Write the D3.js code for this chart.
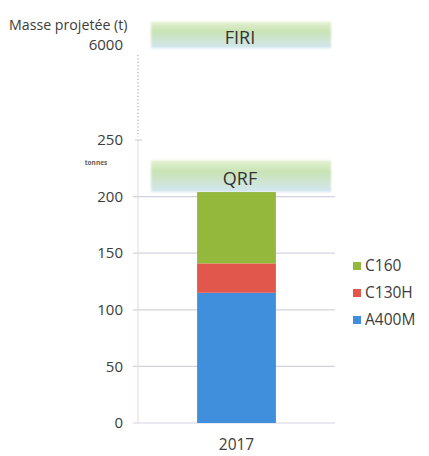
<!DOCTYPE html>
<html>
<head>
<meta charset="utf-8">
<script src="https://cdn.jsdelivr.net/npm/d3@7"></script>
<style>
    body { margin: 0; background: #fff; }
    svg text { font-family: "Open Sans", "Noto Sans", sans-serif; fill: #3c3c3c; }
</style>
</head>
<body>
<div id="chart"></div>
<script>
// Data
const years = ["2017"];
const series = ["A400M", "C130H", "C160"];
const values = { A400M: [115], C130H: [26], C160: [63] };
const colors = ["#3f8fdd", "#e2574c", "#93b83c"];
const legendOrder = ["C160", "C130H", "A400M"];
const yTicks = [0, 50, 100, 150, 200, 250, 6000];
const gridTicks = [0, 50, 100, 150, 200];
const bands = [
    { name: "FIRI", lo: 5800, hi: 7400 },
    { name: "QRF", lo: 204, hi: 232 },
];

const width = 429, height = 456;

const svg = d3.select("#chart").append("svg")
    .attr("width", width)
    .attr("height", height);

const defs = svg.append("defs");
const grad = defs.append("linearGradient")
    .attr("id", "bandGrad").attr("x1", 0).attr("y1", 0).attr("x2", 0).attr("y2", 1);
grad.append("stop").attr("offset", "0%").attr("stop-color", "#e3f0d2");
grad.append("stop").attr("offset", "35%").attr("stop-color", "#c9e3b4");
grad.append("stop").attr("offset", "100%").attr("stop-color", "#d3e6f0");
const blur = defs.append("filter").attr("id", "soft")
    .attr("x", "-5%").attr("y", "-20%").attr("width", "110%").attr("height", "140%");
blur.append("feGaussianBlur").attr("stdDeviation", 1.3);

// broken axis: linear below 250, compressed above
const y = d3.scaleLinear()
    .domain([0, 250, 6000])
    .range([423, 140, 45]);

const x = d3.scaleBand()
    .domain(years)
    .range([138, 335])
    .paddingInner(0)
    .paddingOuter(0.75);

// Gridlines
svg.append("g")
    .selectAll("line")
    .data(gridTicks)
    .join("line")
    .attr("x1", 133)
    .attr("x2", 335)
    .attr("y1", (d) => y(d))
    .attr("y2", (d) => y(d))
    .attr("stroke", "#d3d3df")
    .attr("stroke-width", 1.2);

// Axis line (solid part + dotted break)
svg.append("line")
    .attr("x1", 138).attr("x2", 138)
    .attr("y1", y(250)).attr("y2", y(0))
    .attr("stroke", "#e2d6dc").attr("stroke-width", 1);
svg.append("line")
    .attr("x1", 138).attr("x2", 138)
    .attr("y1", y(6000) + 10).attr("y2", y(250) - 3)
    .attr("stroke", "#9a9a9a").attr("stroke-width", 1)
    .attr("stroke-dasharray", "1.2,2.2");
svg.append("line")
    .attr("x1", 135).attr("x2", 142)
    .attr("y1", y(250)).attr("y2", y(250))
    .attr("stroke", "#c8c8c8");

// Y tick labels
svg.append("g")
    .selectAll("text")
    .data(yTicks)
    .join("text")
    .attr("x", 123)
    .attr("y", (d) => y(d))
    .attr("dy", "0.35em")
    .attr("text-anchor", "end")
    .attr("font-size", 15)
    .text((d) => d);

svg.append("text")
    .attr("x", 96).attr("y", y(250) + 25)
    .attr("text-anchor", "middle")
    .attr("font-size", 6.5)
    .attr("font-weight", "bold")
    .style("fill", "#606060")
    .text("tonnes");

svg.append("text")
    .attr("x", 9).attr("y", 25)
    .attr("dy", "0.35em")
    .attr("font-size", 14.2)
    .text("Masse projetée (t)");

// Bands
const bandG = svg.append("g")
    .selectAll("g")
    .data(bands)
    .join("g");
bandG.append("rect")
    .attr("x", 151)
    .attr("width", 180)
    .attr("y", (d) => y(d.hi))
    .attr("height", (d) => y(d.lo) - y(d.hi))
    .attr("fill", "url(#bandGrad)")
    .attr("filter", "url(#soft)");
bandG.append("text")
    .attr("x", 240)
    .attr("y", (d) => (y(d.lo) + y(d.hi)) / 2 + 2)
    .attr("dy", "0.36em")
    .attr("text-anchor", "middle")
    .attr("font-size", 18)
    .style("fill", "#333")
    .text((d) => d.name);

// Stacked bars
const table = years.map((yr, i) => {
    const row = { year: yr };
    for (const s of series) row[s] = values[s][i];
    return row;
});
const stacked = d3.stack().keys(series)(table);
const color = d3.scaleOrdinal(series, colors);

svg.append("g")
    .selectAll("g")
    .data(stacked)
    .join("g")
    .attr("fill", (d) => color(d.key))
    .selectAll("rect")
    .data((d) => d)
    .join("rect")
    .attr("x", (d) => x(d.data.year))
    .attr("width", x.bandwidth())
    .attr("y", (d) => y(d[1]))
    .attr("height", (d) => y(d[0]) - y(d[1]));

// X axis label
svg.append("g")
    .selectAll("text")
    .data(years)
    .join("text")
    .attr("x", (d) => x(d) + x.bandwidth() / 2)
    .attr("y", 445)
    .attr("dy", "0.35em")
    .attr("text-anchor", "middle")
    .attr("font-size", 15.5)
    .text((d) => d);

// Legend
const legend = svg.append("g")
    .selectAll("g")
    .data(legendOrder)
    .join("g")
    .attr("transform", (d, i) => `translate(353,${266 + i * 27})`);
legend.append("rect")
    .attr("x", 0).attr("y", -4)
    .attr("width", 8).attr("height", 8)
    .attr("fill", (d) => color(d));
legend.append("text")
    .attr("x", 12)
    .attr("dy", "0.35em")
    .attr("font-size", 15.5)
    .text((d) => d);
</script>
</body>
</html>
